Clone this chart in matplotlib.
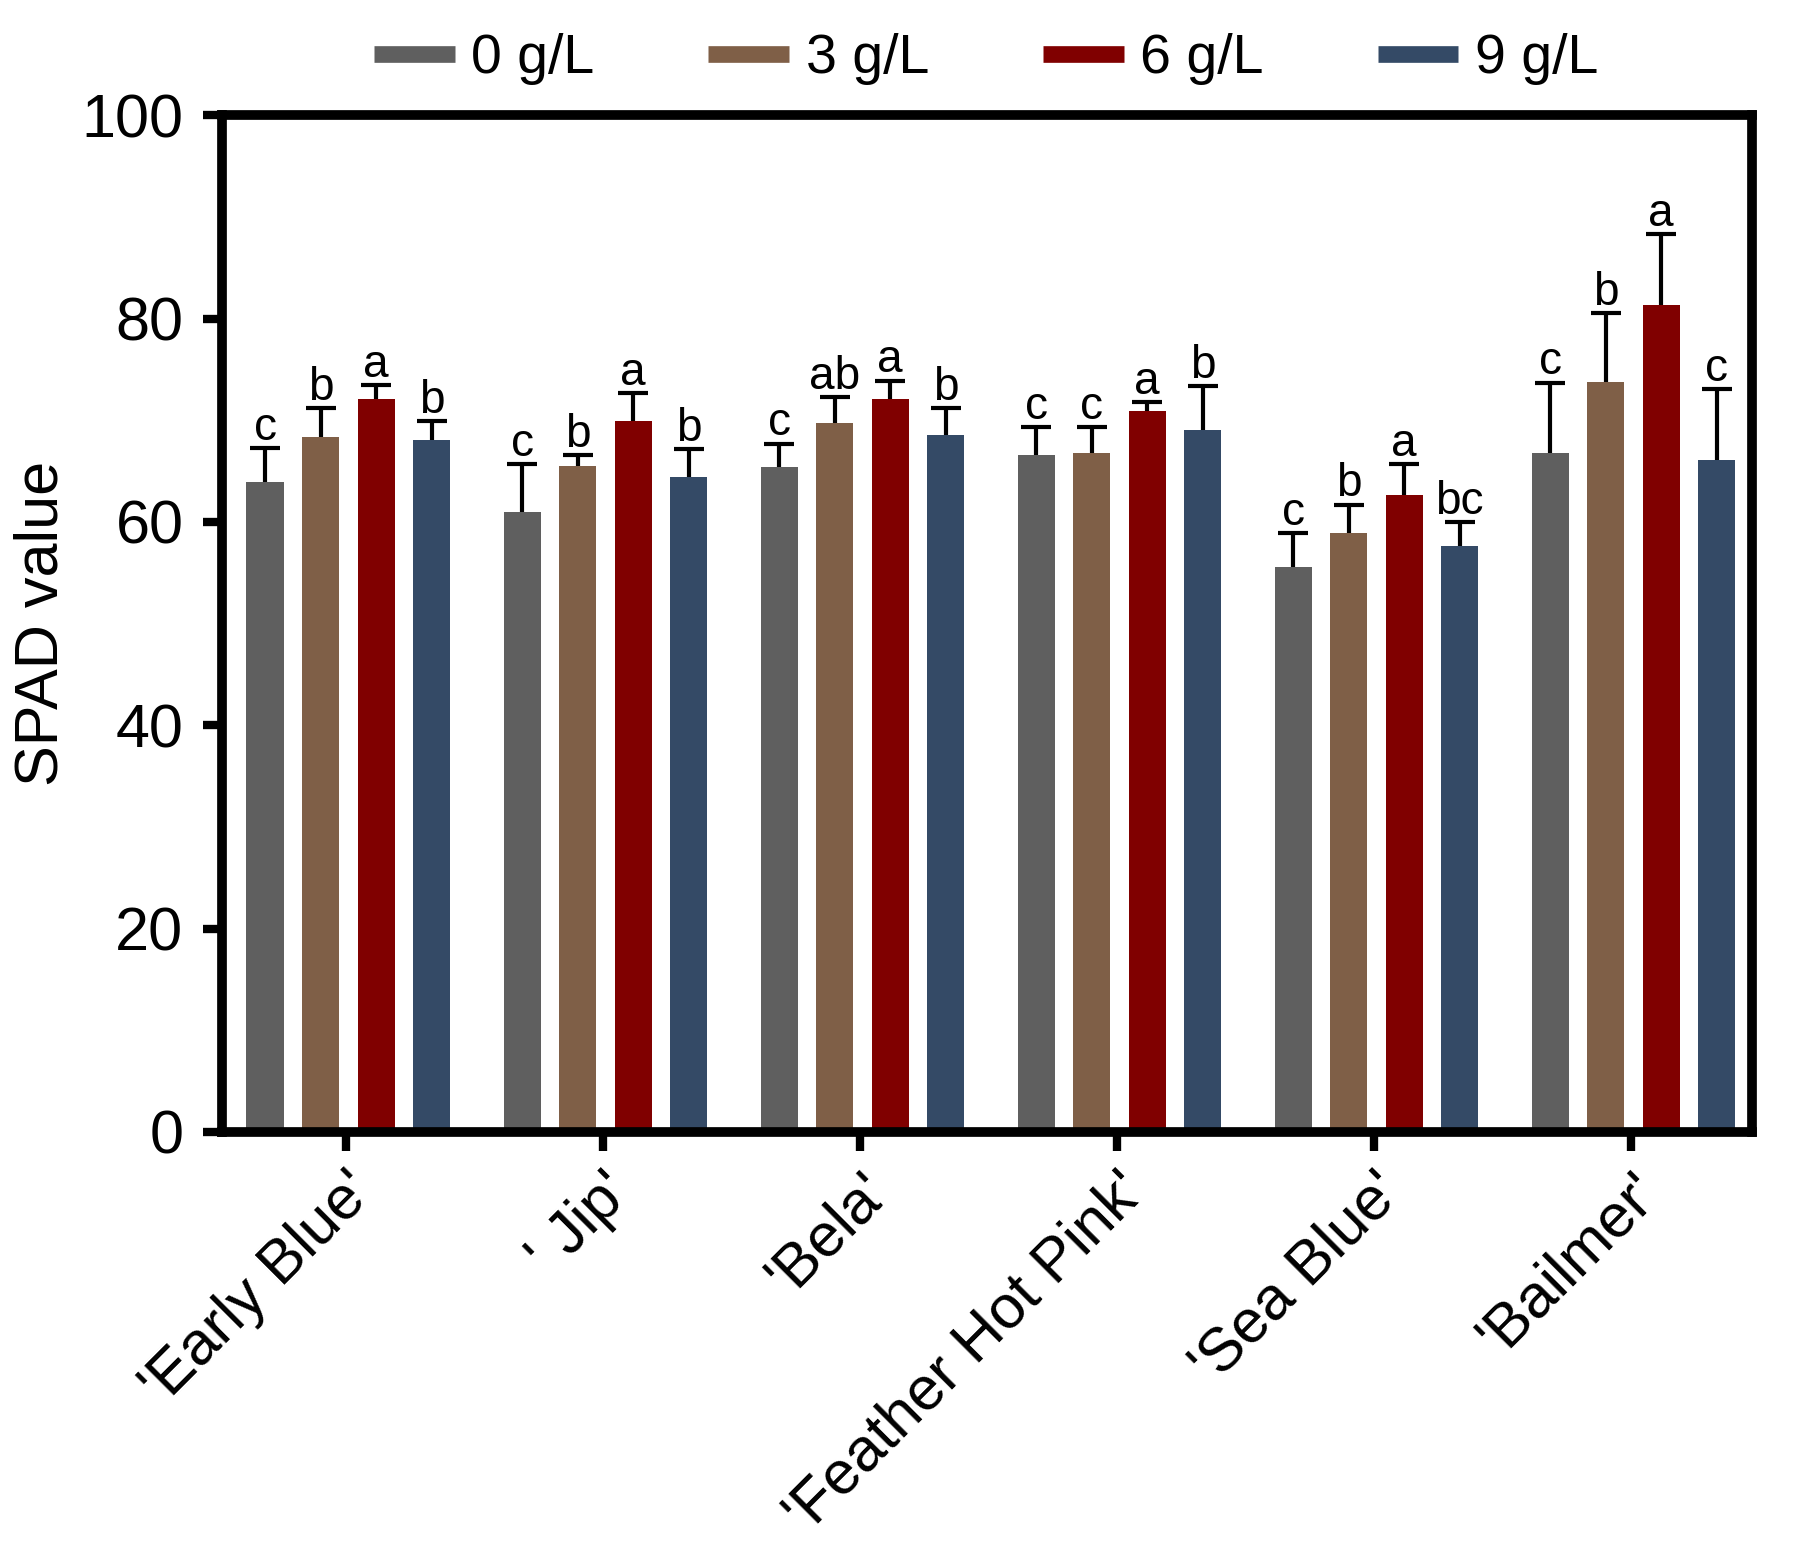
import matplotlib
matplotlib.use('Agg')
import matplotlib.pyplot as plt
from matplotlib.lines import Line2D
import numpy as np

plt.rcParams['font.family'] = ['Liberation Sans', 'DejaVu Sans']

cultivars = ["'Early Blue'", "' Jip'", "'Bela'", "'Feather Hot Pink'", "'Sea Blue'", "'Bailmer'"]
doses = ['0 g/L', '3 g/L', '6 g/L', '9 g/L']
colors = ['#5f5f5f', '#7f5f47', '#800000', '#344a66']

# mean SPAD values per dose
spad_0 = [63.9, 61.0, 65.4, 66.6, 55.6, 66.8]
spad_3 = [68.4, 65.5, 69.7, 66.8, 58.9, 73.8]
spad_6 = [72.1, 69.9, 72.1, 70.9, 62.6, 81.3]
spad_9 = [68.1, 64.4, 68.5, 69.0, 57.6, 66.1]

# standard errors (upper only)
err_0 = [3.4, 4.7, 2.3, 2.7, 3.3, 6.9]
err_3 = [2.8, 1.1, 2.6, 2.5, 2.8, 6.7]
err_6 = [1.4, 2.8, 1.8, 0.9, 3.1, 7.0]
err_9 = [1.8, 2.8, 2.7, 4.4, 2.4, 7.0]

# significance letters
let_0 = ['c', 'c', 'c', 'c', 'c', 'c']
let_3 = ['b', 'b', 'ab', 'c', 'b', 'b']
let_6 = ['a', 'a', 'a', 'a', 'a', 'a']
let_9 = ['b', 'b', 'b', 'b', 'bc', 'c']

means = [spad_0, spad_3, spad_6, spad_9]
errs = [err_0, err_3, err_6, err_9]
letters = [let_0, let_3, let_6, let_9]

fig = plt.figure(figsize=(17.93, 15.57), dpi=100)
ax = fig.add_axes([0.124, 0.273, 0.853, 0.653])

x = np.arange(len(cultivars))
width = 0.144
step = 0.216
for i in range(4):
    pos = x + (i - 1.5) * step + 0.01
    m = np.array(means[i])
    e = np.array(errs[i])
    ax.bar(pos, m, width, color=colors[i], zorder=2)
    eb = ax.errorbar(pos, m, yerr=[np.zeros_like(e), e], fmt='none', ecolor='black',
                     elinewidth=3, capsize=11, capthick=3, zorder=3)
    # hide the cap sitting on the bar top, keep only the upper one
    eb[1][0].set_visible(False)
    for xp, top, lab in zip(pos, m + e, letters[i]):
        ax.text(xp, top + 0.8, lab, ha='center', va='baseline', fontsize=33)

ax.set_xlim(-0.48, 5.47)
ax.set_ylim(0, 100)
ax.set_yticks(np.arange(0, 101, 20))
ax.set_xticks(x)
ax.set_xticklabels(cultivars, rotation=45, ha='right', va='top', rotation_mode='anchor')
ax.tick_params(axis='both', direction='out', length=14, width=6, labelsize=44, pad=8)
ax.tick_params(axis='y', pad=14)
for sp in ax.spines.values():
    sp.set_linewidth(7)
ax.set_ylabel('SPAD value', fontsize=44, labelpad=8)

handles = [Line2D([0], [0], color=c, linewidth=12, solid_capstyle='butt') for c in colors]
fig.legend(handles, doses, loc='center', bbox_to_anchor=(0.55, 0.962), ncol=4,
           frameon=False, fontsize=40, handlelength=1.45, handletextpad=0.3,
           columnspacing=2.05)

plt.savefig('out.png', dpi=100)
plt.close()
